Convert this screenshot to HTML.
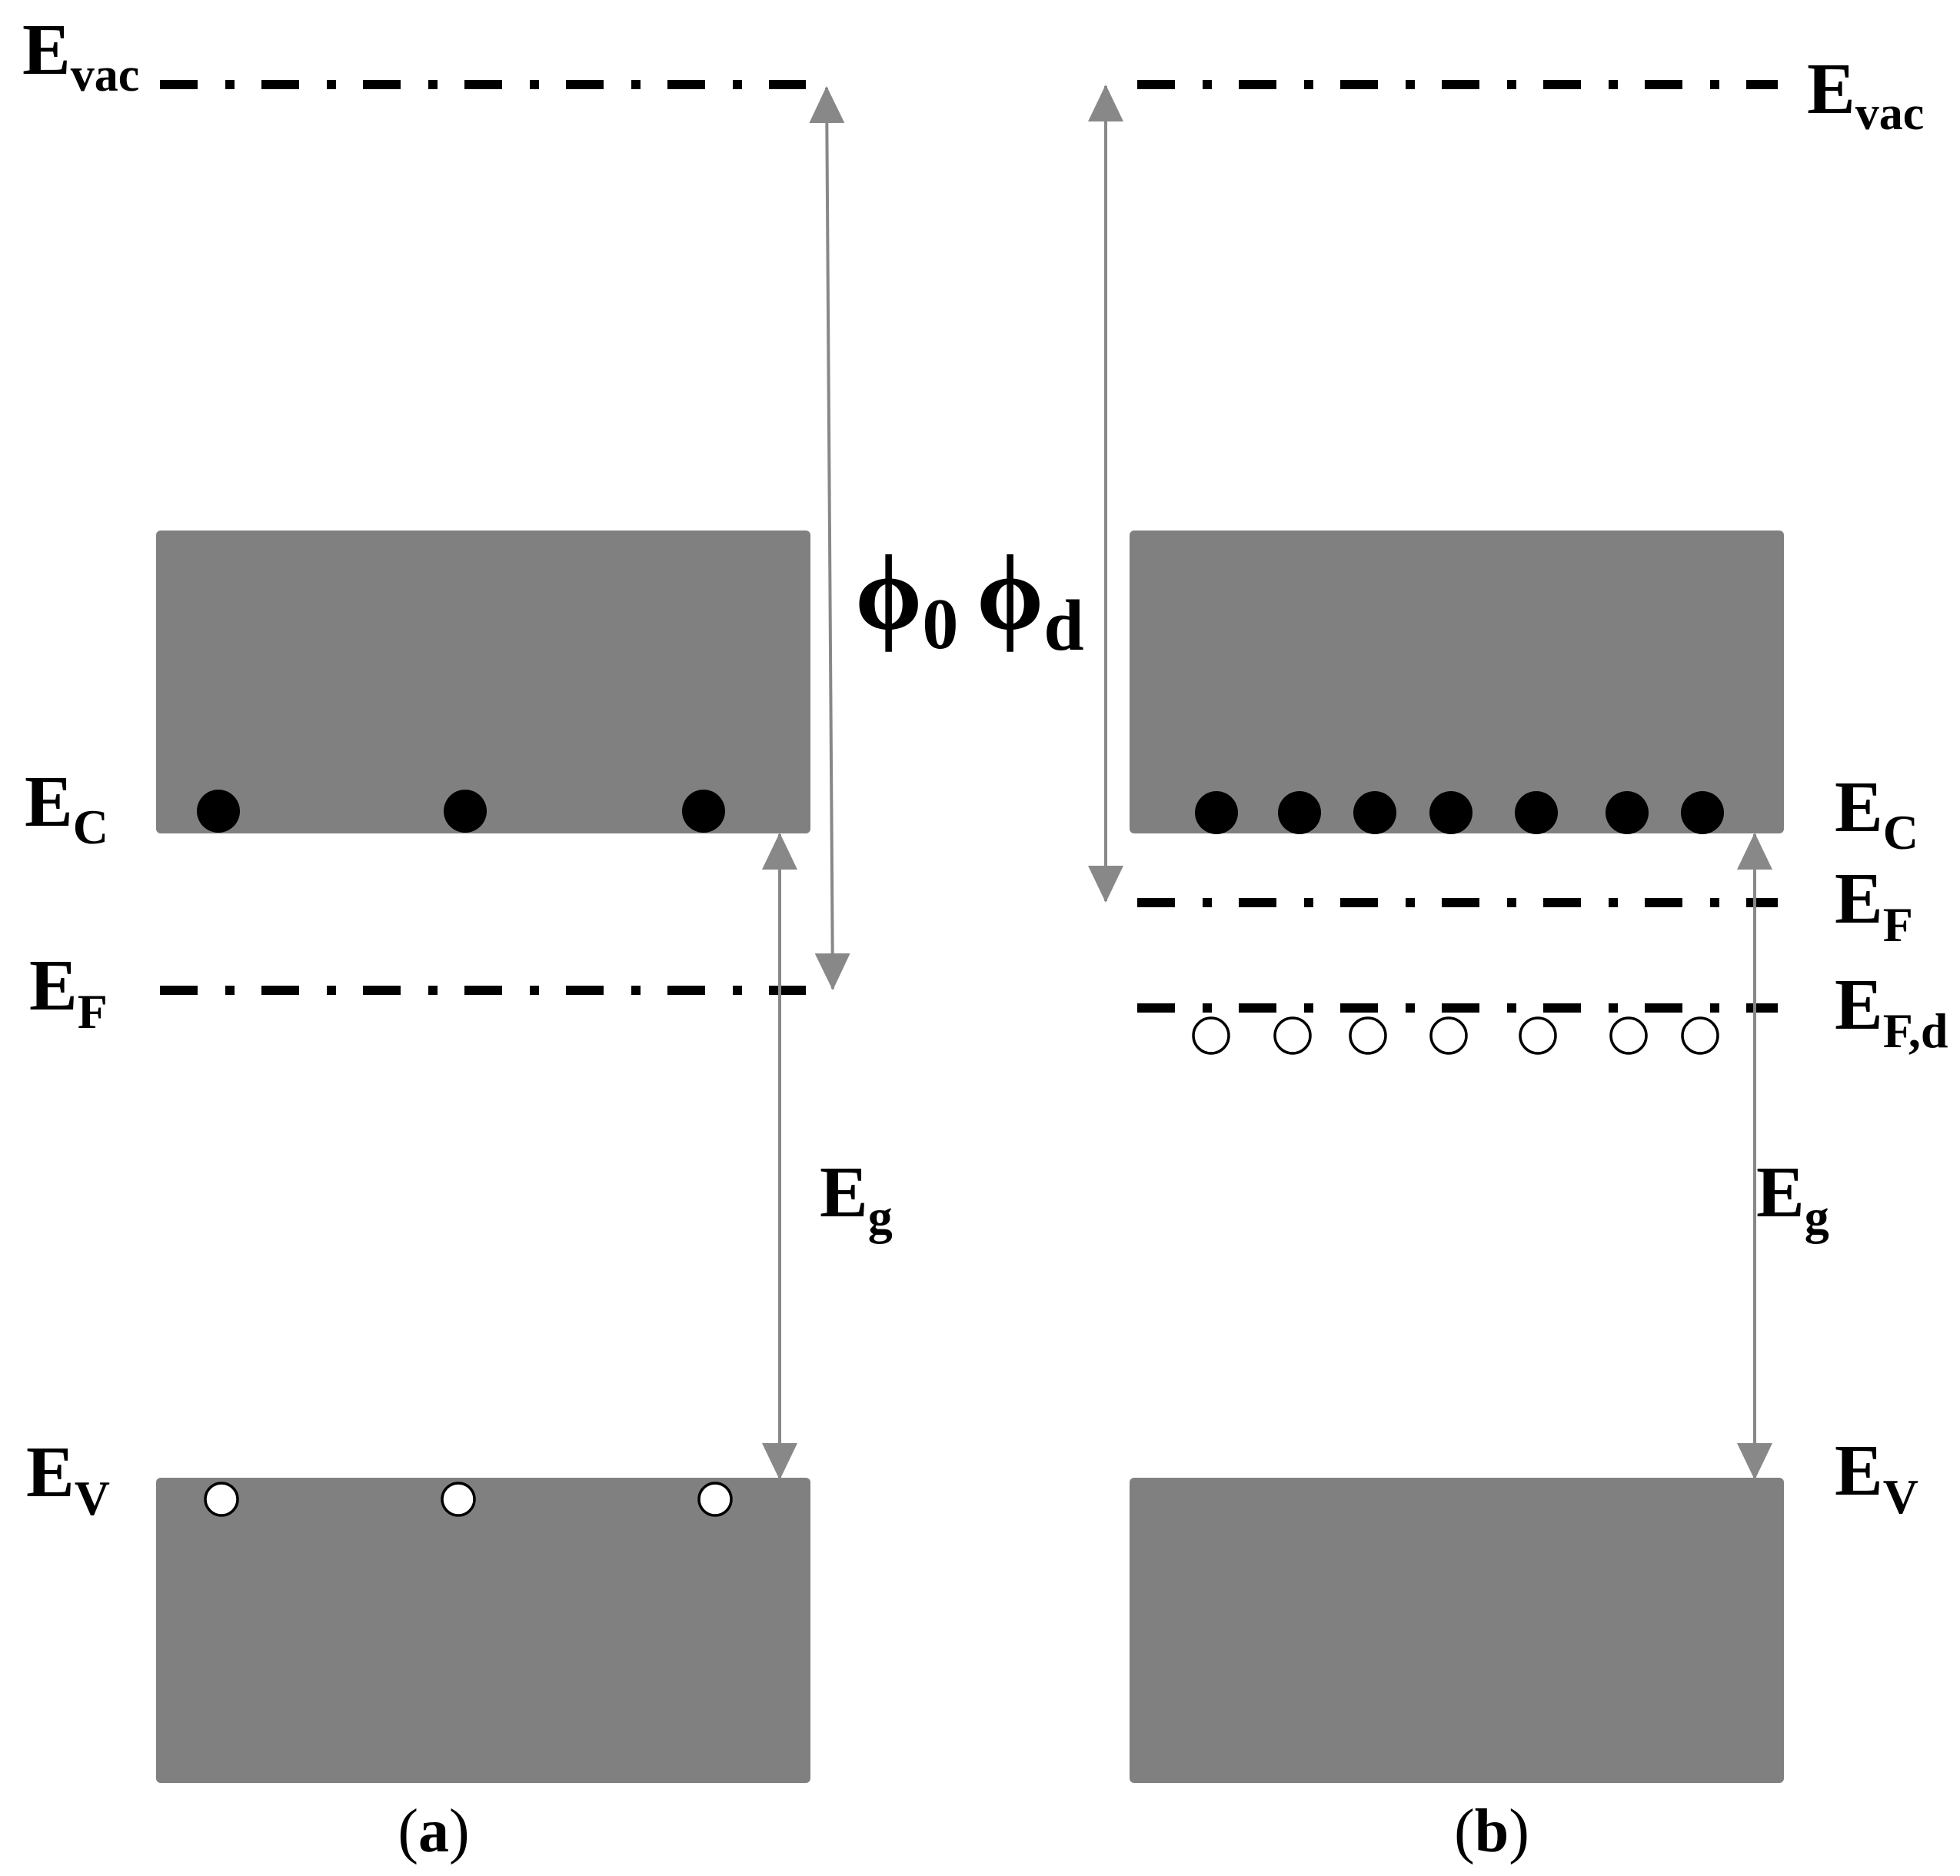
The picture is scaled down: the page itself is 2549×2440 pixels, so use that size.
<!DOCTYPE html>
<html><head><meta charset="utf-8"><style>
html,body{margin:0;padding:0;background:#fff}
svg{display:block}
text{font-family:"Liberation Serif",serif;font-weight:bold;fill:#000}
</style></head><body>
<svg width="2549" height="2440" viewBox="0 0 2549 2440" xmlns="http://www.w3.org/2000/svg">
<defs>
<marker id="ah" markerWidth="48" markerHeight="46" refX="46" refY="23" orient="auto-start-reverse" markerUnits="userSpaceOnUse" viewBox="0 0 48 46">
<path d="M0,0 L48,23 L0,46 Z" fill="#888"/>
</marker>
</defs>
<!-- bands -->
<g fill="#808080">
<rect x="203" y="690" width="851" height="394" rx="6"/>
<rect x="203" y="1922" width="851" height="397" rx="6"/>
<rect x="1469" y="690" width="851" height="394" rx="6"/>
<rect x="1469" y="1922" width="851" height="397" rx="6"/>
</g>
<!-- dash-dot lines -->
<g stroke="#000" stroke-width="12" stroke-dasharray="49 36 12 35" fill="none">
<line x1="208" y1="110" x2="1048" y2="110"/>
<line x1="208" y1="1288" x2="1048" y2="1288"/>
<line x1="1479" y1="110" x2="2312" y2="110"/>
<line x1="1479" y1="1174" x2="2312" y2="1174"/>
<line x1="1479" y1="1311" x2="2312" y2="1311"/>
</g>
<!-- arrows -->
<g stroke="#888" stroke-width="4" fill="none">
<line x1="1075" y1="114" x2="1083" y2="1286" marker-start="url(#ah)" marker-end="url(#ah)"/>
<line x1="1438" y1="112" x2="1438" y2="1172" marker-start="url(#ah)" marker-end="url(#ah)"/>
<line x1="1014" y1="1085" x2="1014" y2="1923" marker-start="url(#ah)" marker-end="url(#ah)"/>
<line x1="2282" y1="1085" x2="2282" y2="1923" marker-start="url(#ah)" marker-end="url(#ah)"/>
</g>
<!-- electrons -->
<g fill="#000">
<circle cx="284" cy="1055" r="28"/><circle cx="605" cy="1055" r="28"/><circle cx="915" cy="1055" r="28"/>
<circle cx="1582" cy="1057" r="28"/><circle cx="1690" cy="1057" r="28"/><circle cx="1788" cy="1057" r="28"/><circle cx="1887" cy="1057" r="28"/><circle cx="1998" cy="1057" r="28"/><circle cx="2116" cy="1057" r="28"/><circle cx="2214" cy="1057" r="28"/>
</g>
<!-- holes -->
<g fill="#fff" stroke="#000" stroke-width="3.5">
<circle cx="288" cy="1950" r="21"/><circle cx="596" cy="1950" r="21"/><circle cx="930" cy="1950" r="21"/>
<circle cx="1575" cy="1347" r="23"/><circle cx="1681" cy="1347" r="23"/><circle cx="1779" cy="1347" r="23"/><circle cx="1884" cy="1347" r="23"/><circle cx="2000" cy="1347" r="23"/><circle cx="2118" cy="1347" r="23"/><circle cx="2211" cy="1347" r="23"/>
</g>
<!-- labels -->
<g font-size="94">
<text x="29" y="96">E<tspan font-size="62" dy="22">vac</tspan></text>
<text x="2350" y="147">E<tspan font-size="62" dy="21">vac</tspan></text>
<text x="32" y="1074">E<tspan font-size="64" dy="23">C</tspan></text>
<text x="2386" y="1081">E<tspan font-size="64" dy="23">C</tspan></text>
<text x="38" y="1313">E<tspan font-size="64" dy="24">F</tspan></text>
<text x="2386" y="1200">E<tspan font-size="64" dy="24">F</tspan></text>
<text x="2386" y="1338">E<tspan font-size="64" dy="24">F,d</tspan></text>
<text x="34" y="1946">E<tspan font-size="64" dy="24">V</tspan></text>
<text x="2386" y="1944">E<tspan font-size="64" dy="24">V</tspan></text>
<text x="1066" y="1582">E<tspan font-size="64" dy="22">g</tspan></text>
<text x="2284" y="1582">E<tspan font-size="64" dy="22">g</tspan></text>
</g>
<text x="1112" y="818" font-size="140" font-weight="normal">ϕ<tspan font-size="94" font-weight="bold" dy="25">0</tspan></text>
<text x="1270" y="818" font-size="140" font-weight="normal">ϕ<tspan font-size="94" font-weight="bold" dy="27">d</tspan></text>
<text x="564" y="2408" font-size="80" text-anchor="middle"><tspan font-weight="normal">(</tspan>a<tspan font-weight="normal">)</tspan></text>
<text x="1940" y="2408" font-size="80" text-anchor="middle"><tspan font-weight="normal">(</tspan>b<tspan font-weight="normal">)</tspan></text>
</svg>
</body></html>
